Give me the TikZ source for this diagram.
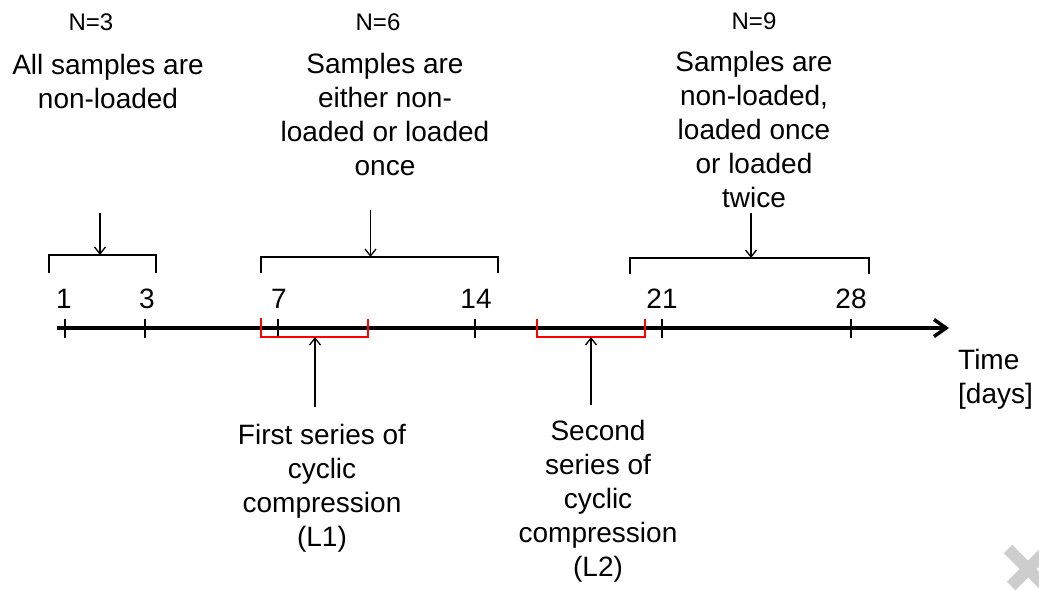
\documentclass[tikz,border=0pt]{standalone}
\usepackage{fontspec}
\setmainfont{Liberation Sans}
\usetikzlibrary{arrows.meta}
\definecolor{xgrey}{RGB}{205,205,205}
\begin{document}
\begin{tikzpicture}[x=1pt,y=-1pt,
  lbl/.style={font=\fontsize{28}{33.8}\selectfont, align=center, inner sep=0pt, anchor=base},
  nlbl/.style={font=\fontsize{24}{28}\selectfont, inner sep=0pt, anchor=base},
  brk/.style={line width=1.3pt, black},
  rbrk/.style={line width=1.3pt, red},
  tck/.style={line width=1.3pt, black},
  axisline/.style={line width=3.5pt, -{Straight Barb[length=12pt,width=17pt,line width=3.5pt]}},
  ptr/.style={line width=1.3pt, -{Straight Barb[length=7pt,width=11pt,line width=1.3pt]}},
]
\useasboundingbox (0,0) rectangle (1039,590);

% grey mark
\begin{scope}
\clip (0,0) rectangle (1039,590);
\draw[xgrey, line width=12pt] (1008,549) -- (1070,611);
\draw[xgrey, line width=12pt] (1011,586) -- (1070,527);
\end{scope}

% axis
\coordinate (axs) at (57,328);
\coordinate (axe) at (949,328);
\draw[axisline] (axs) -- (axe);

% ticks and labels
\foreach \x/\lx/\n in {65/64/1,145/147/3,278/279/7,475/476/14,662/662/21,851/851/28}{
  \draw[tck] (\x,319) -- (\x,338);
  \node[lbl] (d\n) at (\lx,308) {\n};
}

% top brackets
\draw[brk] (49,273) -- (49,255) -- (156,255) -- (156,273);
\coordinate (br1) at (100,255);
\draw[brk] (261,273) -- (261,257) -- (498,257) -- (498,273);
\coordinate (br2) at (370.5,257);
\draw[brk] (630,274) -- (630,258) -- (869,258) -- (869,274);
\coordinate (br3) at (751,258);

% red brackets
\draw[rbrk] (261,318) -- (261,337) -- (368,337) -- (368,319);
\coordinate (rb1) at (315,337);
\draw[rbrk] (537,319) -- (537,337) -- (645,337) -- (645,319);
\coordinate (rb2) at (591,337);

% top texts (anchor = baseline of last line)
\node[nlbl] (n3) at (91,30) {N=3};
\node[lbl] (t1) at (108,108) {All samples are\\non-loaded};
\node[nlbl] (n6) at (378,30) {N=6};
\node[lbl] (t2) at (385,175) {Samples are\\either non-\\loaded or loaded\\once};
\node[nlbl] (n9) at (754,29) {N=9};
\node[lbl] (t3) at (754,207) {Samples are\\non-loaded,\\loaded once\\or loaded\\twice};

% bottom texts
\node[lbl] (b1) at (322,546) {First series of\\cyclic\\compression\\(L1)};
\node[lbl] (b2) at (598,576) {Second\\series of\\cyclic\\compression\\(L2)};
\node[lbl, align=left, anchor=base west] (time) at (958,403) {Time\\{[days]}};

% arrows
\coordinate (a1) at (100,213);
\coordinate (a2) at (370.5,210);
\coordinate (a3) at (751,213);
\draw[ptr] (a1) -- (br1);
\draw[ptr] (a2) -- (br2);
\draw[ptr] (a3) -- (br3);
\coordinate (a4) at (315,407);
\coordinate (a5) at (591,405);
\draw[ptr] (a4) -- (rb1);
\draw[ptr] (a5) -- (rb2);
\end{tikzpicture}
\end{document}
